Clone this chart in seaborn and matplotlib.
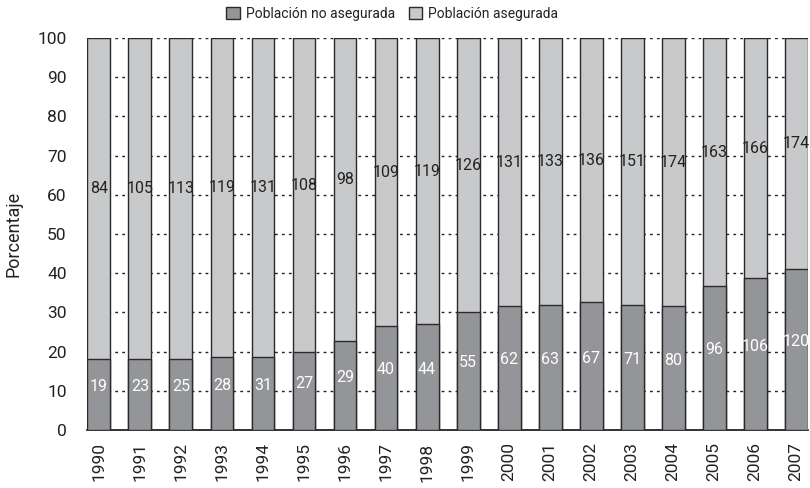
import matplotlib
matplotlib.use("Agg")
import matplotlib.pyplot as plt
import matplotlib.patches as mpatches
import seaborn as sns
import pandas as pd

years = ["1990", "1991", "1992", "1993", "1994", "1995", "1996", "1997", "1998",
         "1999", "2000", "2001", "2002", "2003", "2004", "2005", "2006", "2007"]
# percentage of uninsured population
pct_no_asegurada = [18.1, 18.0, 18.1, 18.7, 18.6, 19.9, 22.8, 26.6, 27.0,
                    30.2, 31.7, 31.9, 32.6, 31.9, 31.5, 36.8, 38.7, 41.1]
# labels printed in the bars
n_no_asegurada = [19, 23, 25, 28, 31, 27, 29, 40, 44, 55, 62, 63, 67, 71, 80, 96, 106, 120]
n_asegurada = [84, 105, 113, 119, 131, 108, 98, 109, 119, 126, 131, 133, 136, 151, 174, 163, 166, 174]
total_pct = [100] * len(years)

dark = "#949598"
light = "#c8c9cb"
edge = "#2a2a2a"
txt = "#222222"

df = pd.DataFrame({"year": years, "no": pct_no_asegurada, "total": total_pct})

sns.set_style("white")
plt.rcParams["font.family"] = ["Roboto", "DejaVu Sans"]

fig = plt.figure(figsize=(8.1, 4.88), dpi=100)
ax = fig.add_axes([0.108, 0.119, 0.889, 0.803])

sns.barplot(data=df, x="year", y="total", color=light, saturation=1, width=0.56,
            edgecolor=edge, linewidth=1.0, ax=ax, zorder=2)
sns.barplot(data=df, x="year", y="no", color=dark, saturation=1, width=0.56,
            edgecolor=edge, linewidth=1.0, ax=ax, zorder=3)

for i in range(len(years)):
    p = pct_no_asegurada[i]
    ax.text(i, p / 2 + 2.0, str(n_no_asegurada[i]), ha="center", va="center",
            color="white", fontsize=11.5, zorder=5)
    ax.text(i, p + (100 - p) / 2 + 2.5, str(n_asegurada[i]), ha="center", va="center",
            color=txt, fontsize=11.5, zorder=5)

ax.set_xlim(-0.28, len(years) - 1 + 0.28)
ax.set_ylim(0, 100)
ax.set_yticks(range(0, 101, 10))
ax.tick_params(axis="y", labelsize=12.5, length=0, pad=15, colors=txt)
ax.tick_params(axis="x", labelsize=12.5, length=0, pad=9, rotation=90, colors=txt)
ax.set_xlabel("")
ax.set_ylabel("Porcentaje", fontsize=13, labelpad=11, color=txt)

ax.yaxis.grid(True, linestyle=(0, (2, 3)), color="#222222", linewidth=1.0, zorder=0)
ax.set_axisbelow(True)
for s in ["top", "right", "left"]:
    ax.spines[s].set_visible(False)
ax.spines["bottom"].set_color("#111111")
ax.spines["bottom"].set_linewidth(1.2)

handles = [mpatches.Patch(facecolor=dark, edgecolor=edge, label="Población no asegurada"),
           mpatches.Patch(facecolor=light, edgecolor=edge, label="Población asegurada")]
fig.legend(handles=handles, loc="upper center", bbox_to_anchor=(0.484, 1.012), ncol=2,
           frameon=False, fontsize=10, handlelength=1.0, handleheight=1.0,
           handletextpad=0.4, columnspacing=1.0, labelcolor=txt)

fig.savefig("out.png", dpi=100)
